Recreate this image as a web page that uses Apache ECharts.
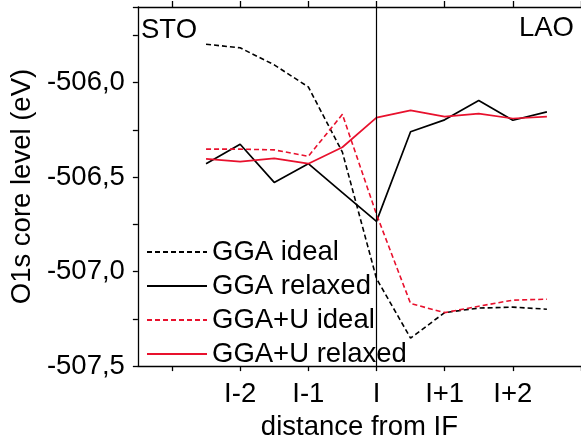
<!DOCTYPE html>
<html>
<head>
<meta charset="utf-8">
<script src="https://cdn.jsdelivr.net/npm/echarts@6/dist/echarts.min.js"></script>
<style>
html, body { margin: 0; padding: 0; background: #fff; }
#chart { width: 581px; height: 446px; }
</style>
</head>
<body>
<div id="chart"></div>
<script>
// slots along the x axis (one unit = one layer), points sit on half layers
var slots = [-3.5, -3, -2.5, -2, -1.5, -1, -0.5, 0, 0.5, 1, 1.5, 2, 2.5, 3]
var positions = [-2.5, -2, -1.5, -1, -0.5, 0, 0.5, 1, 1.5, 2, 2.5]
var layerLabels = { '-2': 'I-2', '-1': 'I-1', '0': 'I', '1': 'I+1', '2': 'I+2' }

// O1s core level (eV)
var ggaIdeal = [-505.797, -505.816, -505.906, -506.023, -506.368, -507.037, -507.352, -507.217, -507.193, -507.188, -507.199]
var ggaRelaxed = [-506.429, -506.326, -506.528, -506.429, -506.582, -506.734, -506.260, -506.197, -506.095, -506.199, -506.155]
var ggauIdeal = [-506.352, -506.352, -506.356, -506.390, -506.168, -506.697, -507.169, -507.217, -507.183, -507.151, -507.146]
var ggauRelaxed = [-506.404, -506.418, -506.401, -506.429, -506.342, -506.185, -506.147, -506.180, -506.164, -506.190, -506.180]

var FONT = 'Liberation Sans, Arial, Helvetica, sans-serif'
var FS = 27.5
var RED = '#e8112d'

// put a series on the slot grid (null where there is no point)
function onSlots (vals) {
  return slots.map(function (s) {
    var i = positions.indexOf(s)
    return i < 0 ? null : vals[i]
  })
}

function isLayer (v) {
  var n = Number(v)
  return n === Math.round(n)
}

var chart = echarts.init(document.getElementById('chart'))

var option = {
  animation: false,
  textStyle: { fontFamily: FONT },
  grid: { left: 134, top: 7, right: -4, bottom: 74, containLabel: false },
  legend: {
    orient: 'vertical',
    left: 141,
    top: 233,
    itemWidth: 60,
    itemHeight: 14,
    itemGap: 6,
    itemStyle: { opacity: 0 },
    textStyle: { fontSize: FS, color: '#000', fontFamily: FONT, padding: [0, 0, 0, 0] },
    data: ['GGA ideal', 'GGA relaxed', 'GGA+U ideal', 'GGA+U relaxed']
  },
  xAxis: [
    {
      type: 'category',
      boundaryGap: false,
      data: slots.map(String),
      name: 'distance from IF',
      nameLocation: 'middle',
      nameGap: 46,
      nameTextStyle: { fontSize: FS, color: '#000', fontFamily: FONT },
      axisLine: { lineStyle: { color: '#000', width: 1.3 } },
      axisTick: { inside: false, length: 5, lineStyle: { color: '#000', width: 1.3 }, interval: function (i, v) { return isLayer(v) } },
      axisLabel: {
        margin: 14,
        fontSize: FS,
        color: '#000',
        fontFamily: FONT,
        interval: function (i, v) { return layerLabels[v] !== undefined },
        formatter: function (v) { return layerLabels[v] || '' }
      },
      splitLine: { show: false }
    },
    {
      type: 'category',
      position: 'top',
      boundaryGap: false,
      data: slots.map(String),
      axisLine: { lineStyle: { color: '#000', width: 1.3 } },
      axisTick: { inside: false, length: 6, lineStyle: { color: '#000', width: 1.3 }, interval: function (i, v) { return isLayer(v) } },
      axisLabel: { show: false },
      splitLine: { show: false }
    }
  ],
  yAxis: {
    type: 'value',
    min: -507.5,
    max: -505.6,
    interval: 0.25,
    name: 'O1s core level (eV)',
    nameLocation: 'middle',
    nameGap: 97,
    nameTextStyle: { fontSize: FS, color: '#000', fontFamily: FONT },
    axisLine: { show: true, lineStyle: { color: '#000', width: 1.3 } },
    axisTick: { show: true, inside: false, length: 5, lineStyle: { color: '#000', width: 1.3 } },
    axisLabel: {
      margin: 13,
      fontSize: FS,
      color: '#000',
      fontFamily: FONT,
      formatter: function (v) {
        return Math.abs(v * 2 - Math.round(v * 2)) < 1e-6 ? v.toFixed(1).replace('.', ',') : ''
      }
    },
    splitLine: { show: false }
  },
  graphic: [
    { type: 'text', left: 141, top: 16, style: { text: 'STO', font: FS + 'px ' + FONT, fill: '#000' } },
    { type: 'text', right: 7, top: 14, style: { text: 'LAO', font: FS + 'px ' + FONT, fill: '#000' } }
  ],
  series: [
    {
      name: 'GGA ideal',
      type: 'line',
      symbol: 'none',
      data: onSlots(ggaIdeal),
      lineStyle: { color: '#000', width: 1.6, type: [5, 3] },
      itemStyle: { color: '#000' }
    },
    {
      name: 'GGA relaxed',
      type: 'line',
      symbol: 'none',
      data: onSlots(ggaRelaxed),
      lineStyle: { color: '#000', width: 1.7 },
      itemStyle: { color: '#000' },
      markLine: {
        silent: true,
        symbol: ['none', 'none'],
        label: { show: false },
        lineStyle: { color: '#000', width: 1.2, type: 'solid' },
        data: [{ xAxis: slots.indexOf(0) }]
      }
    },
    {
      name: 'GGA+U ideal',
      type: 'line',
      symbol: 'none',
      data: onSlots(ggauIdeal),
      lineStyle: { color: RED, width: 1.6, type: [5, 3] },
      itemStyle: { color: RED }
    },
    {
      name: 'GGA+U relaxed',
      type: 'line',
      symbol: 'none',
      data: onSlots(ggauRelaxed),
      lineStyle: { color: RED, width: 1.7 },
      itemStyle: { color: RED }
    }
  ]
}

chart.setOption(option)
</script>
</body>
</html>
